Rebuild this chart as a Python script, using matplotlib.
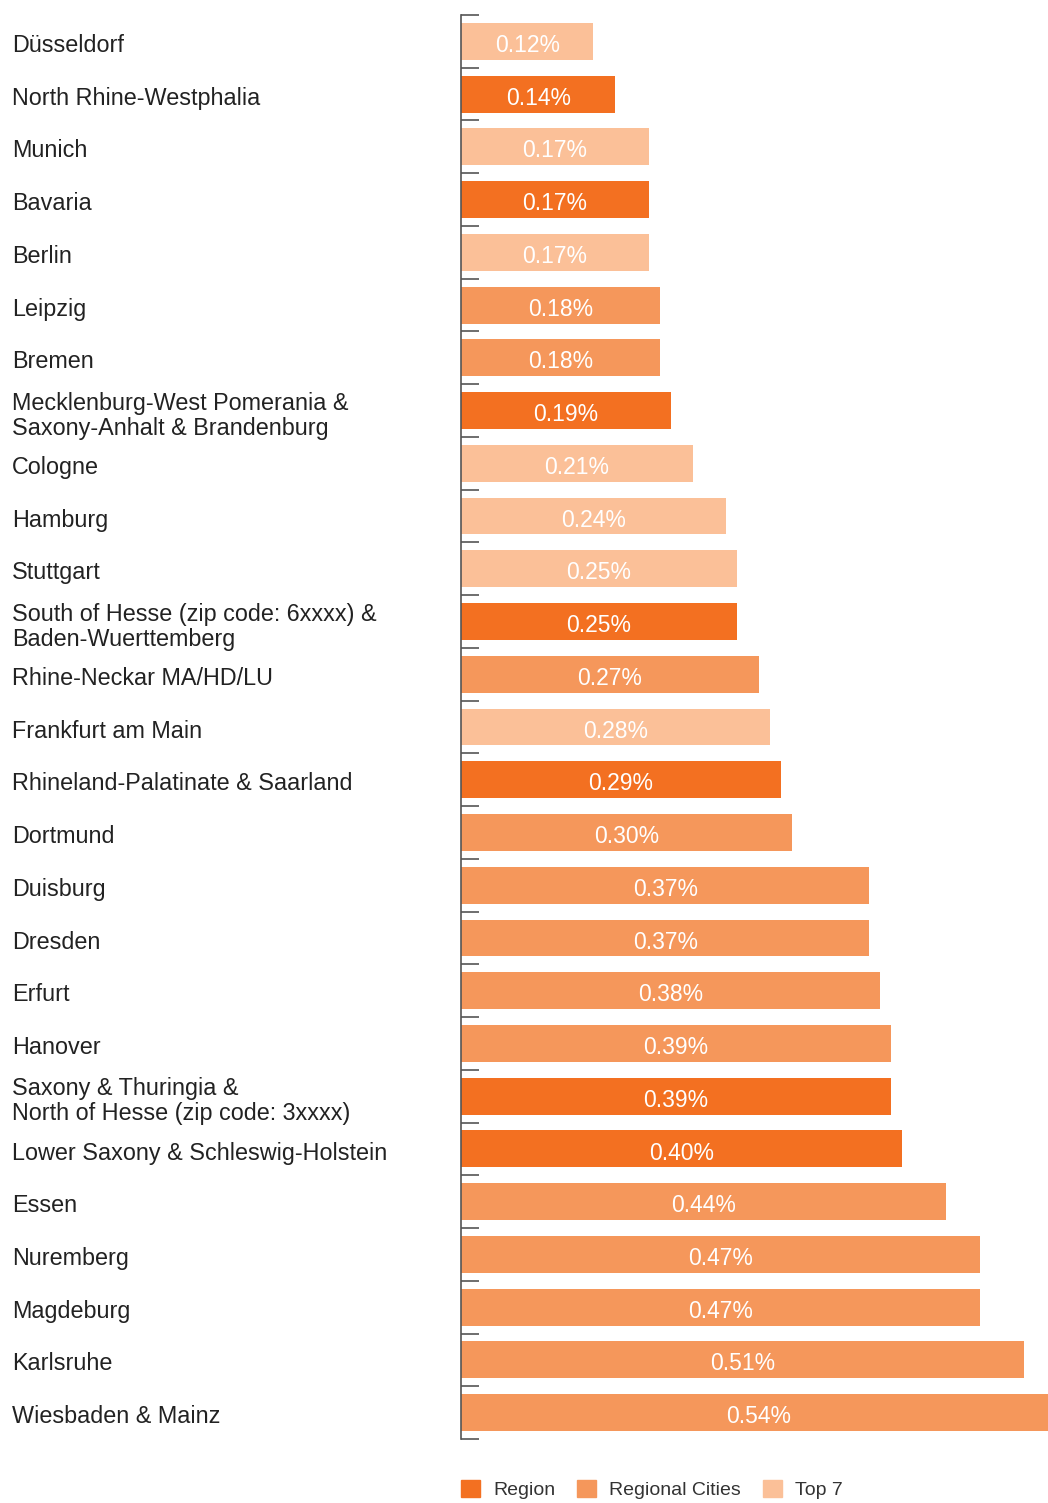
import matplotlib.pyplot as plt
import matplotlib.transforms as mtransforms
from matplotlib.patches import Patch

plt.rcParams['font.family'] = ['Liberation Sans', 'DejaVu Sans']

# data, top to bottom
labels = ["Düsseldorf", "North Rhine-Westphalia", "Munich", "Bavaria", "Berlin",
          "Leipzig", "Bremen",
          "Mecklenburg-West Pomerania &\nSaxony-Anhalt & Brandenburg",
          "Cologne", "Hamburg", "Stuttgart",
          "South of Hesse (zip code: 6xxxx) &\nBaden-Wuerttemberg",
          "Rhine-Neckar MA/HD/LU", "Frankfurt am Main",
          "Rhineland-Palatinate & Saarland", "Dortmund", "Duisburg", "Dresden",
          "Erfurt", "Hanover", "Saxony & Thuringia &\nNorth of Hesse (zip code: 3xxxx)",
          "Lower Saxony & Schleswig-Holstein", "Essen", "Nuremberg", "Magdeburg",
          "Karlsruhe", "Wiesbaden & Mainz"]
values = [0.12, 0.14, 0.17, 0.17, 0.17, 0.18, 0.18, 0.19, 0.21, 0.24, 0.25, 0.25,
          0.27, 0.28, 0.29, 0.30, 0.37, 0.37, 0.38, 0.39, 0.39, 0.40, 0.44, 0.47,
          0.47, 0.51, 0.54]
groups = ["Top 7", "Region", "Top 7", "Region", "Top 7", "Regional Cities",
          "Regional Cities", "Region", "Top 7", "Top 7", "Top 7", "Region",
          "Regional Cities", "Top 7", "Region", "Regional Cities", "Regional Cities",
          "Regional Cities", "Regional Cities", "Regional Cities", "Region", "Region",
          "Regional Cities", "Regional Cities", "Regional Cities", "Regional Cities",
          "Regional Cities"]

colors = {"Region": "#f37021", "Regional Cities": "#f5975b", "Top 7": "#fbc098"}

fig = plt.figure(figsize=(10.48, 15.03), dpi=100)
ax = fig.add_axes([461 / 1048, 1 - 1439 / 1503, 1 - 461 / 1048, (1439 - 15) / 1503])

n = len(values)
ypos = list(range(n))
ax.barh(ypos, values, height=0.7, color=[colors[g] for g in groups])
for y, v in zip(ypos, values):
    ax.text(v / 2, y + 0.03, f"{v:.2f}%", ha='center', va='center_baseline', color='white',
            fontsize=16.5, clip_on=False)

# the longest bar runs past the right edge of the picture
ax.set_xlim(0, 0.532)
ax.set_ylim(n - 0.5, -0.5)
ax.set_xticks([])
ax.set_yticks([i - 0.5 for i in range(n + 1)])
ax.set_yticklabels([])
ax.tick_params(axis='y', direction='in', length=13, width=1.2, color='#555555')
for s in ['top', 'right', 'bottom']:
    ax.spines[s].set_visible(False)
ax.spines['left'].set_color('#555555')
ax.spines['left'].set_linewidth(1.2)

trans = mtransforms.blended_transform_factory(fig.transFigure, ax.transData)
for y, lab in zip(ypos, labels):
    ax.text(12 / 1048, y + 0.03, lab, transform=trans, ha='left', va='center_baseline',
            fontsize=16.8, color='#222222', linespacing=1.12)

handles = [Patch(color=colors[k], label=k) for k in ["Region", "Regional Cities", "Top 7"]]
fig.legend(handles=handles, loc='lower left', bbox_to_anchor=(460 / 1048, 0.002),
           ncol=3, frameon=False, fontsize=14, handlelength=0.98, handleheight=0.98,
           handletextpad=0.67, columnspacing=1.13, borderpad=0.05, borderaxespad=0,
           labelcolor='#333333')

fig.savefig("out.png", dpi=100)
